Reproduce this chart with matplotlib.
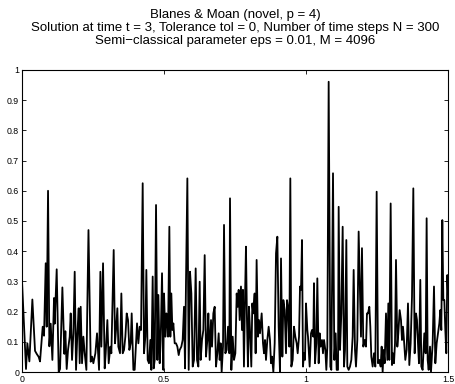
import numpy as np
import matplotlib
matplotlib.use("Agg")
import matplotlib.pyplot as plt

plt.rcParams['font.family'] = ['Liberation Sans', 'DejaVu Sans']

# |u(x, t=3)|, piece by piece along x
x1 = [0.0, 0.014, 0.0188, 0.0259, 0.0364, 0.0458, 0.0517, 0.0587, 0.0634, 0.0728, 0.0775, 0.0834, 0.0869,
      0.0916, 0.0963, 0.101, 0.1069, 0.1127, 0.1151, 0.1221, 0.1292, 0.1339, 0.1421, 0.1491, 0.1526, 0.1573]
y1 = [0.30, 0.01, 0.095, 0.035, 0.24, 0.07, 0.06, 0.05, 0.035, 0.15, 0.12, 0.36, 0.15,
      0.60, 0.085, 0.16, 0.04, 0.245, 0.16, 0.34, 0.0, 0.01, 0.28, 0.06, 0.135, 0.01]

x2 = [0.162, 0.1679, 0.1714, 0.1761, 0.1808, 0.1855, 0.1902, 0.1949, 0.1996, 0.2031, 0.2066, 0.2113, 0.216,
      0.2207, 0.2266, 0.234, 0.2418, 0.2465, 0.2512, 0.2583, 0.2641, 0.2712, 0.2759, 0.2794, 0.2853, 0.2911,
      0.2947, 0.3005, 0.3052, 0.3111, 0.3146, 0.3228, 0.3275]
y2 = [0.073, 0.117, 0.194, 0.04, 0.128, 0.332, 0.007, 0.128, 0.211, 0.029, 0.216, 0.029, 0.117,
      0.062, 0.007, 0.47, 0.034, 0.051, 0.029, 0.062, 0.128, 0.007, 0.332, 0.084, 0.36, 0.012,
      0.062, 0.172, 0.029, 0.084, 0.062, 0.404, 0.095]

x3 = [0.331, 0.3357, 0.3392, 0.3451, 0.3498, 0.3545, 0.3592, 0.3639, 0.3686, 0.3733, 0.378, 0.3827, 0.3862,
      0.3921, 0.3967, 0.4014, 0.405, 0.4097, 0.4144, 0.4191, 0.4249, 0.4296, 0.4343, 0.4378, 0.4425, 0.4472,
      0.4519, 0.4554, 0.4601, 0.4637, 0.4672, 0.4719, 0.4766, 0.4801, 0.4848, 0.4883, 0.493, 0.4977]
y3 = [0.139, 0.211, 0.084, 0.062, 0.26, 0.062, 0.073, 0.117, 0.194, 0.172, 0.073, 0.095, 0.194,
      0.007, 0.007, 0.095, 0.161, 0.095, 0.15, 0.139, 0.625, 0.062, 0.117, 0.338, 0.04, 0.029,
      0.106, 0.007, 0.316, 0.012, 0.04, 0.553, 0.04, 0.255, 0.029, 0.106, 0.327, 0.007]

x4 = [0.5, 0.5047, 0.5082, 0.5117, 0.5141, 0.5188, 0.5223, 0.5258, 0.5294, 0.5329, 0.5376, 0.5423, 0.547,
      0.5517, 0.5552, 0.561, 0.5657, 0.5704, 0.574, 0.5775, 0.5822, 0.5869, 0.5916, 0.5963, 0.601, 0.6057,
      0.6115, 0.6162, 0.6209, 0.6256, 0.6291, 0.6338, 0.6385, 0.6432, 0.6479, 0.6526, 0.6561, 0.6608, 0.6655]
y4 = [0.26, 0.117, 0.194, 0.161, 0.117, 0.481, 0.117, 0.26, 0.139, 0.161, 0.095, 0.095, 0.084,
      0.056, 0.073, 0.084, 0.106, 0.216, 0.012, 0.305, 0.641, 0.007, 0.332, 0.26, 0.018, 0.04,
      0.343, 0.04, 0.018, 0.299, 0.04, 0.106, 0.139, 0.387, 0.051, 0.106, 0.194, 0.04, 0.172]

x5 = [0.669, 0.6737, 0.6784, 0.6831, 0.6878, 0.6925, 0.696, 0.6995, 0.703, 0.7077, 0.7113, 0.716, 0.7207,
      0.7254, 0.7301, 0.7324, 0.7371, 0.7418, 0.7465, 0.7512, 0.7559, 0.7594, 0.7629, 0.7664, 0.771, 0.7745,
      0.778, 0.7815, 0.7851, 0.7886, 0.7921, 0.7956, 0.7991, 0.8027, 0.8074, 0.8109, 0.8144, 0.8191, 0.8226,
      0.8261, 0.8308, 0.8344]
y5 = [0.084, 0.194, 0.216, 0.018, 0.062, 0.128, 0.04, 0.095, 0.0, 0.084, 0.487, 0.062, 0.073,
      0.15, 0.062, 0.575, 0.007, 0.117, 0.04, 0.062, 0.26, 0.216, 0.272, 0.172, 0.283, 0.139,
      0.272, 0.018, 0.238, 0.415, 0.172, 0.018, 0.216, 0.139, 0.018, 0.227, 0.194, 0.26, 0.062,
      0.371, 0.117, 0.172]

x6 = [0.838, 0.8439, 0.8486, 0.8521, 0.8556, 0.8591, 0.8638, 0.8685, 0.8732, 0.8767, 0.8803, 0.885, 0.8897,
      0.8944, 0.8991, 0.9037, 0.9084, 0.912, 0.9167, 0.9202, 0.9249, 0.9296, 0.9331, 0.9366, 0.9413, 0.9448,
      0.9484, 0.9531, 0.9577, 0.9624, 0.9671, 0.9707, 0.9754, 0.9789, 0.9824, 0.9859, 0.9894, 0.993, 0.9965,
      1.0, 1.0047]
y6 = [0.128, 0.194, 0.095, 0.062, 0.106, 0.04, 0.106, 0.15, 0.106, 0.029, 0.051, 0.0, 0.095,
      0.393, 0.448, 0.15, 0.0, 0.376, 0.051, 0.238, 0.205, 0.062, 0.238, 0.216, 0.084, 0.641,
      0.018, 0.04, 0.15, 0.117, 0.095, 0.062, 0.117, 0.283, 0.272, 0.437, 0.018, 0.062, 0.04,
      0.227, 0.139]

x7 = [1.007, 1.0129, 1.0176, 1.0211, 1.0258, 1.0281, 1.0317, 1.0363, 1.0399, 1.0446, 1.0481, 1.0516, 1.0563,
      1.0598, 1.0634, 1.0681, 1.0716, 1.0751, 1.0798, 1.0857, 1.0892, 1.0951, 1.0997, 1.1044, 1.108, 1.1127,
      1.115, 1.1197, 1.1244, 1.1291, 1.1338, 1.1373, 1.142, 1.1455, 1.1502, 1.1549, 1.1596, 1.1643, 1.1678,
      1.1725]
y7 = [0.117, 0.018, 0.128, 0.139, 0.117, 0.294, 0.029, 0.095, 0.31, 0.029, 0.128, 0.084, 0.106,
      0.062, 0.106, 0.073, 0.007, 0.084, 0.961, 0.018, 0.007, 0.658, 0.04, 0.128, 0.007, 0.007,
      0.547, 0.073, 0.194, 0.481, 0.018, 0.073, 0.437, 0.018, 0.007, 0.018, 0.04, 0.117, 0.338,
      0.073]

x8 = [1.176, 1.1807, 1.1854, 1.1901, 1.1936, 1.1971, 1.2018, 1.2065, 1.2112, 1.2147, 1.2183, 1.223, 1.2265,
      1.23, 1.2347, 1.2394, 1.2441, 1.2488, 1.2535, 1.2582, 1.2629, 1.2664, 1.2699, 1.2734, 1.277, 1.2817,
      1.2864, 1.2899, 1.2934, 1.2981, 1.3028, 1.3063, 1.3098, 1.3134, 1.3169, 1.3216, 1.3251, 1.3298, 1.3345,
      1.338, 1.3415]
y8 = [0.018, 0.106, 0.465, 0.272, 0.117, 0.41, 0.084, 0.106, 0.084, 0.194, 0.194, 0.216, 0.15,
      0.051, 0.018, 0.062, 0.018, 0.597, 0.029, 0.04, 0.018, 0.084, 0.0, 0.073, 0.029, 0.194,
      0.04, 0.227, 0.04, 0.558, 0.023, 0.062, 0.029, 0.095, 0.371, 0.084, 0.128, 0.205, 0.172,
      0.106, 0.15]

x9 = [1.345, 1.3497, 1.3544, 1.3591, 1.3638, 1.3685, 1.3732, 1.3779, 1.3826, 1.3873, 1.3908, 1.3943, 1.3978,
      1.4025, 1.4061, 1.4107, 1.4166, 1.4213, 1.4248, 1.4284, 1.4319, 1.4366, 1.4401, 1.446, 1.4507, 1.4554,
      1.4601, 1.4648, 1.4695, 1.473, 1.4765, 1.48, 1.4836, 1.4871, 1.4906, 1.4941, 1.4976, 1.5]
y9 = [0.106, 0.04, 0.073, 0.227, 0.023, 0.095, 0.249, 0.608, 0.062, 0.194, 0.172, 0.095, 0.029,
      0.305, 0.018, 0.007, 0.128, 0.062, 0.509, 0.04, 0.007, 0.084, 0.0, 0.095, 0.283, 0.029,
      0.095, 0.128, 0.161, 0.205, 0.139, 0.503, 0.238, 0.238, 0.139, 0.062, 0.321, 0.26]

x = np.concatenate([x1, x2, x3, x4, x5, x6, x7, x8, x9])
u = np.concatenate([y1, y2, y3, y4, y5, y6, y7, y8, y9])

xticks = [0, 0.5, 1, 1.5]
xticklabels = ['0', '0.5', '1', '1.5']
yticks = [0, 0.1, 0.2, 0.3, 0.4, 0.5, 0.6, 0.7, 0.8, 0.9, 1]
yticklabels = ['0', '0.1', '0.2', '0.3', '0.4', '0.5', '0.6', '0.7', '0.8', '0.9', '1']

title = ("Blanes & Moan (novel, p = 4)\n"
         "Solution at time t = 3, Tolerance tol = 0, Number of time steps N = 300\n"
         "Semi\u2212classical parameter eps = 0.01, M = 4096")

fig = plt.figure(figsize=(4.55, 3.84), dpi=100)
ax = fig.add_axes([0.0484, 0.03125, 0.9362, 0.7865])
ax.plot(x, u, color='k', linewidth=1.3)

ax.set_xlim(0, 1.5)
ax.set_ylim(0, 1)
ax.set_xticks(xticks)
ax.set_xticklabels(xticklabels)
ax.set_yticks(yticks)
ax.set_yticklabels(yticklabels)
ax.tick_params(direction='in', top=True, right=True, length=3, width=0.6,
               labelsize=6.3, pad=2)
for s in ax.spines.values():
    s.set_linewidth(0.8)

ax.set_title(title, fontsize=9.5, pad=19, linespacing=1.1)

fig.savefig('out.png', dpi=100)
